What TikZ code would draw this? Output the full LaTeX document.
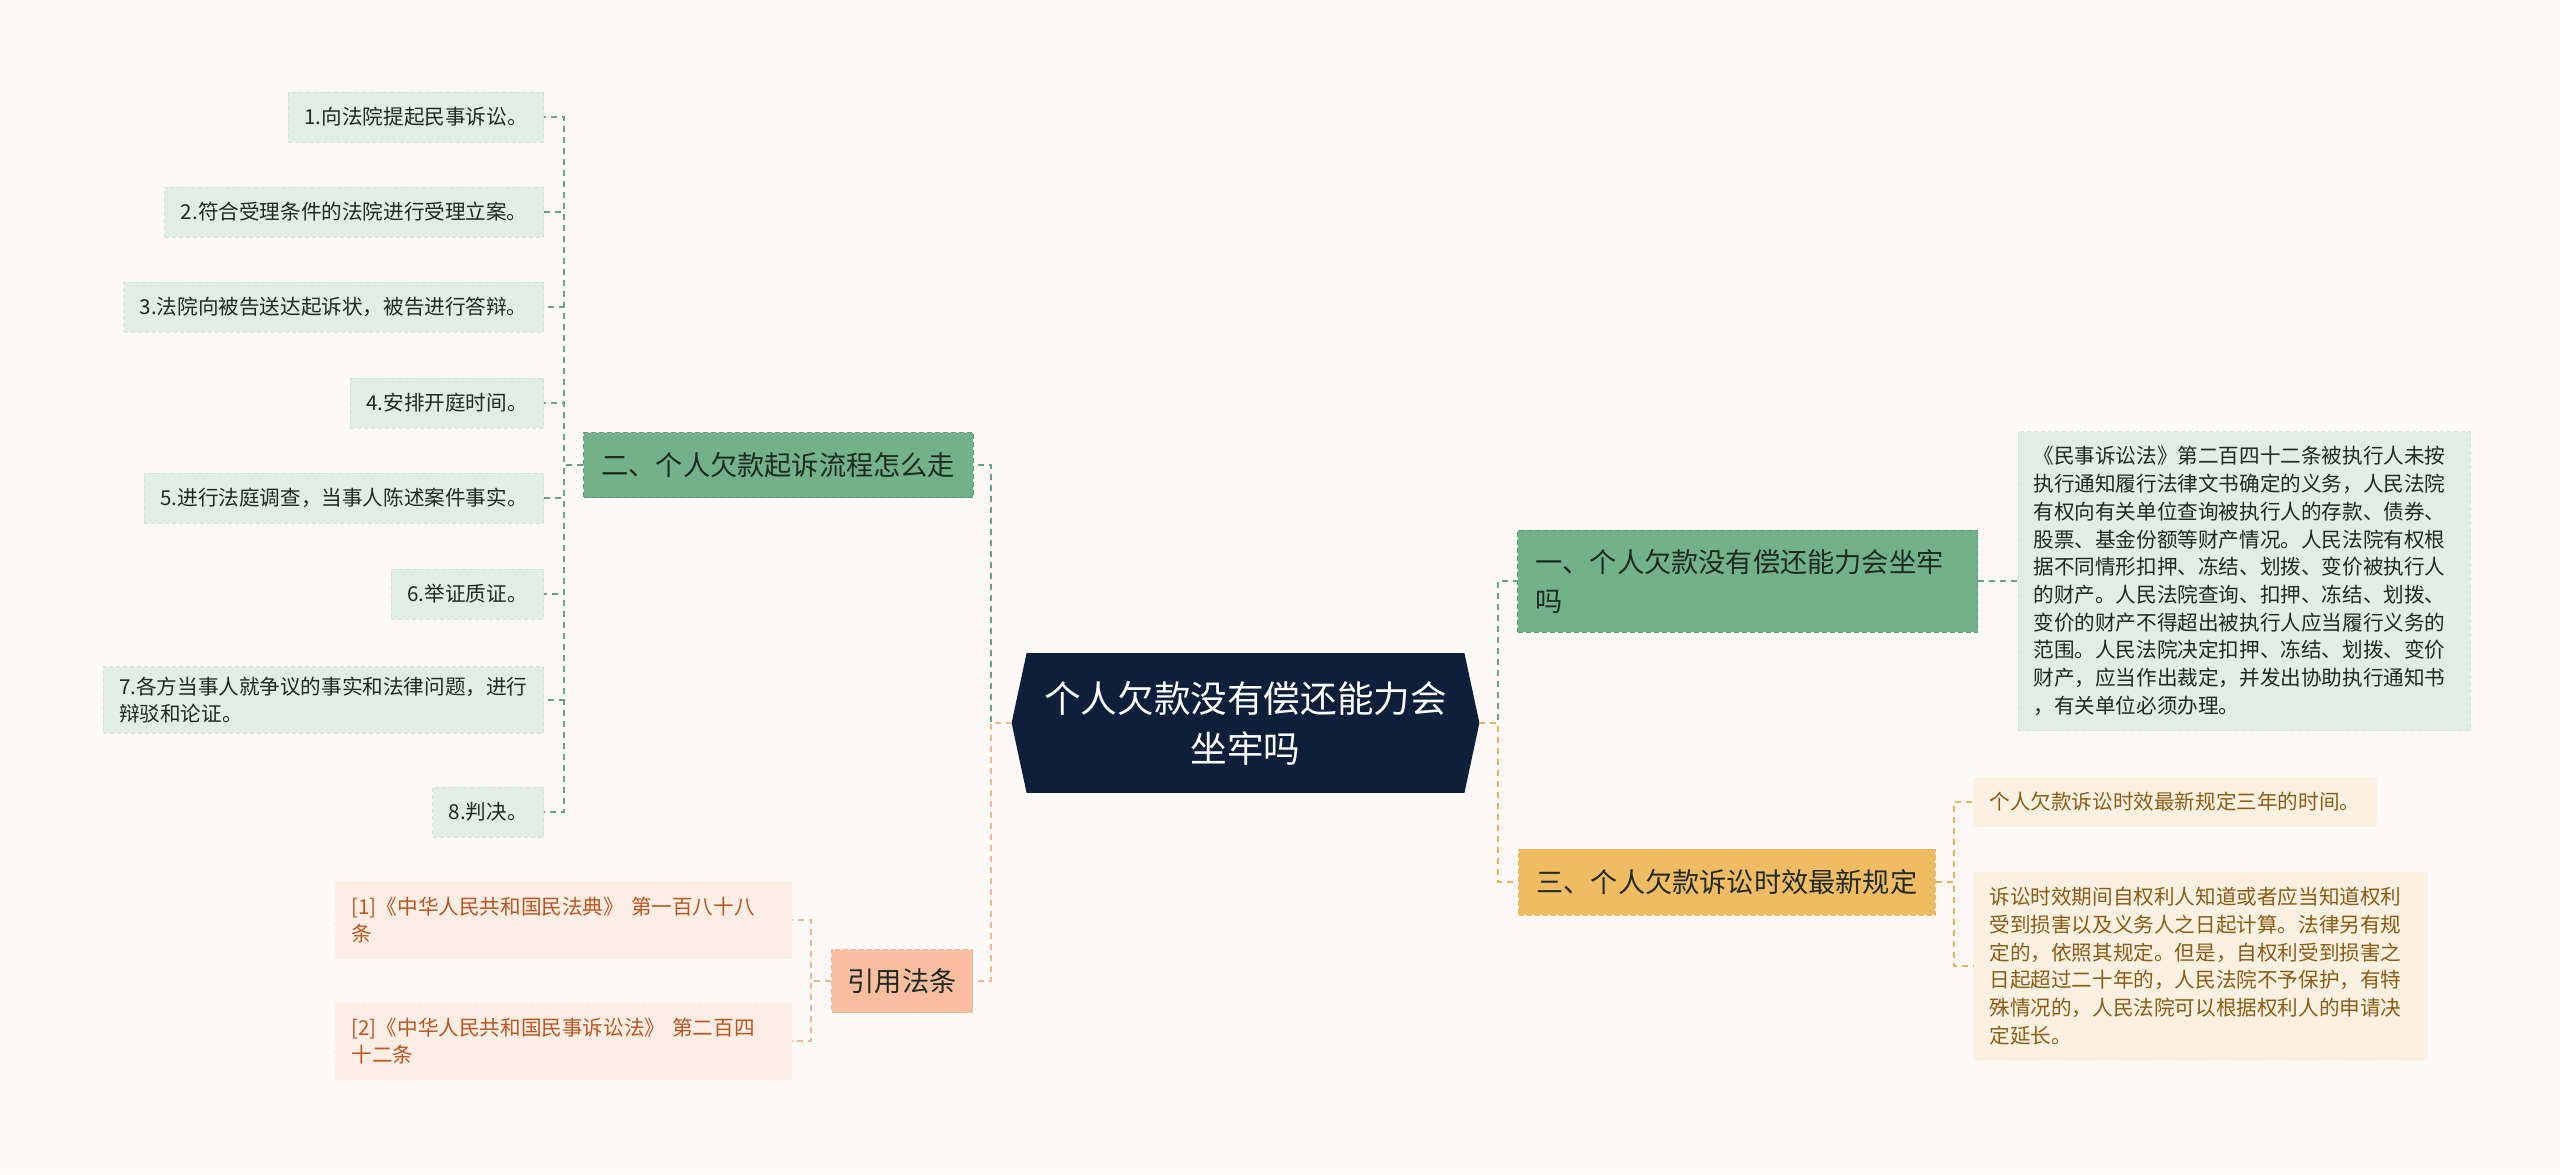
\documentclass[tikz,border=0pt]{standalone}
\usepackage{fontspec}
\setmainfont{Noto Sans CJK SC}
\usetikzlibrary{positioning,calc,backgrounds}

\definecolor{paper}{HTML}{FCF9F7}
\definecolor{rootnavy}{HTML}{0E1F3B}
\definecolor{ink}{HTML}{1F2A22}
\definecolor{greenfill}{HTML}{72B18A}
\definecolor{greenedge}{HTML}{5F9C77}
\definecolor{greenline}{HTML}{6AA482}
\definecolor{greenleaf}{HTML}{E0EEE5}
\definecolor{greenleafedge}{HTML}{CFE3D6}
\definecolor{salmonfill}{HTML}{F8BE9F}
\definecolor{salmonline}{HTML}{EFB796}
\definecolor{salmonleaf}{HTML}{FCEEE5}
\definecolor{salmonink}{HTML}{BC5520}
\definecolor{goldfill}{HTML}{EFBC63}
\definecolor{goldline}{HTML}{E5B45F}
\definecolor{goldleaf}{HTML}{FBF1E2}
\definecolor{goldink}{HTML}{8C5C14}

\begin{document}
\begin{tikzpicture}[x=0.5pt,y=-0.5pt,
  smalltxt/.style={font=\fontsize{10.3}{13.85}\selectfont},
  bigtxt/.style={font=\fontsize{13.6}{19.5}\selectfont},
  leafbox/.style={smalltxt, draw, dashed, dash pattern=on 2pt off 1.5pt, line width=0.4pt,
    inner xsep=8pt, inner ysep=5pt, minimum height=25pt, align=left},
  branchbox/.style={bigtxt, text=ink, draw, dashed, dash pattern=on 2.5pt off 1.5pt, line width=0.5pt,
    inner xsep=9pt, align=left},
  gline/.style={greenline, line width=1pt, dash pattern=on 3pt off 2.5pt},
  sline/.style={salmonline, line width=1pt, dash pattern=on 3pt off 2.5pt},
  yline/.style={goldline, line width=1pt, dash pattern=on 3pt off 2.5pt}]

  \useasboundingbox (0,0) rectangle (2560,1174);

  % Root
  \node[text=white, font=\fontsize{18.3}{25}\selectfont, align=center,
    minimum width=218.5pt, minimum height=69.5pt, inner sep=0pt] (root) at (1245.5,723)
    {个人欠款没有偿还能力会\\坐牢吗};
  \coordinate (rootW) at ([xshift=-7.5pt]root.west);
  \coordinate (rootE) at ([xshift=7.5pt]root.east);
  \begin{scope}[on background layer]
    % page
    \fill[paper] (0,0) rectangle (2560,1174);
    \fill[rootnavy] (root.north west) -- (root.north east) -- (rootE) -- (root.south east)
      -- (root.south west) -- (rootW) -- cycle;
  \end{scope}

  % Left branch: steps
  \node[branchbox, fill=greenfill, draw=greenedge, minimum height=32.5pt, anchor=west] (two) at (583,465)
    {二、个人欠款起诉流程怎么走};
  \foreach \n/\y/\t in {1/117/{1.向法院提起民事诉讼。},
      2/212/{2.符合受理条件的法院进行受理立案。},
      3/307/{3.法院向被告送达起诉状，被告进行答辩。},
      4/403/{4.安排开庭时间。},
      5/498/{5.进行法庭调查，当事人陈述案件事实。},
      6/594/{6.举证质证。},
      7/700/{7.各方当事人就争议的事实和法律问题，进行\\辩驳和论证。},
      8/812/{8.判决。}} {
    \node[leafbox, fill=greenleaf, draw=greenleafedge, text=ink, anchor=east] (s\n) at (544,\y) {\t};
    \draw[gline] (two.west) -- ++(-19,0) |- (s\n.east);
  }
  \draw[gline] (rootW) -- ++(-21,0) |- (two.east);

  % Left branch: cited laws
  \node[branchbox, fill=salmonfill, draw=salmonline, minimum height=31.5pt, inner xsep=8pt, anchor=east] (cite) at (973,981)
    {引用法条};
  \node[leafbox, fill=salmonleaf, draw=salmonleaf, text=salmonink, text width=212pt, minimum height=38.5pt, anchor=east] (r1) at (792,920)
    {[1]《中华人民共和国民法典》 第一百八十八\\条};
  \node[leafbox, fill=salmonleaf, draw=salmonleaf, text=salmonink, text width=212pt, minimum height=38.5pt, anchor=east] (r2) at (792,1041)
    {[2]《中华人民共和国民事诉讼法》 第二百四\\十二条};
  \draw[sline] (rootW) -- ++(-21,0) |- (cite.east);
  \draw[sline] (cite.west) -- ++(-20,0) |- (r1.east);
  \draw[sline] (cite.west) -- ++(-20,0) |- (r2.east);

  % Right branch: one
  \node[branchbox, fill=greenfill, draw=greenedge, text width=212pt, minimum height=51pt, anchor=west] (one) at (1517,581)
    {一、个人欠款没有偿还能力会坐牢\\吗};
  \node[leafbox, fill=greenleaf, draw=greenleafedge, text=ink, text width=211pt, inner xsep=7.5pt, minimum height=149.5pt, anchor=west] (d1) at (2018,581)
    {《民事诉讼法》第二百四十二条被执行人未按\\执行通知履行法律文书确定的义务，人民法院\\有权向有关单位查询被执行人的存款、债券、\\股票、基金份额等财产情况。人民法院有权根\\据不同情形扣押、冻结、划拨、变价被执行人\\的财产。人民法院查询、扣押、冻结、划拨、\\变价的财产不得超出被执行人应当履行义务的\\范围。人民法院决定扣押、冻结、划拨、变价\\财产，应当作出裁定，并发出协助执行通知书\\，有关单位必须办理。};
  \draw[gline] (rootE) -- ++(19,0) |- (one.west);
  \draw[gline] (one.east) -- (d1.west);

  % Right branch: three
  \node[branchbox, fill=goldfill, draw=goldline, minimum height=33pt, anchor=west] (three) at (1518,882)
    {三、个人欠款诉讼时效最新规定};
  \node[leafbox, fill=goldleaf, draw=goldleaf, text=goldink, minimum height=24.5pt, anchor=west] (t1) at (1973,802)
    {个人欠款诉讼时效最新规定三年的时间。};
  \node[leafbox, fill=goldleaf, draw=goldleaf, text=goldink, text width=211pt, minimum height=94pt, anchor=west] (t2) at (1973,966)
    {诉讼时效期间自权利人知道或者应当知道权利\\受到损害以及义务人之日起计算。法律另有规\\定的，依照其规定。但是，自权利受到损害之\\日起超过二十年的，人民法院不予保护，有特\\殊情况的，人民法院可以根据权利人的申请决\\定延长。};
  \draw[yline] (rootE) -- ++(19,0) |- (three.west);
  \draw[yline] (three.east) -- ++(18,0) |- (t1.west);
  \draw[yline] (three.east) -- ++(18,0) |- (t2.west);
\end{tikzpicture}
\end{document}
